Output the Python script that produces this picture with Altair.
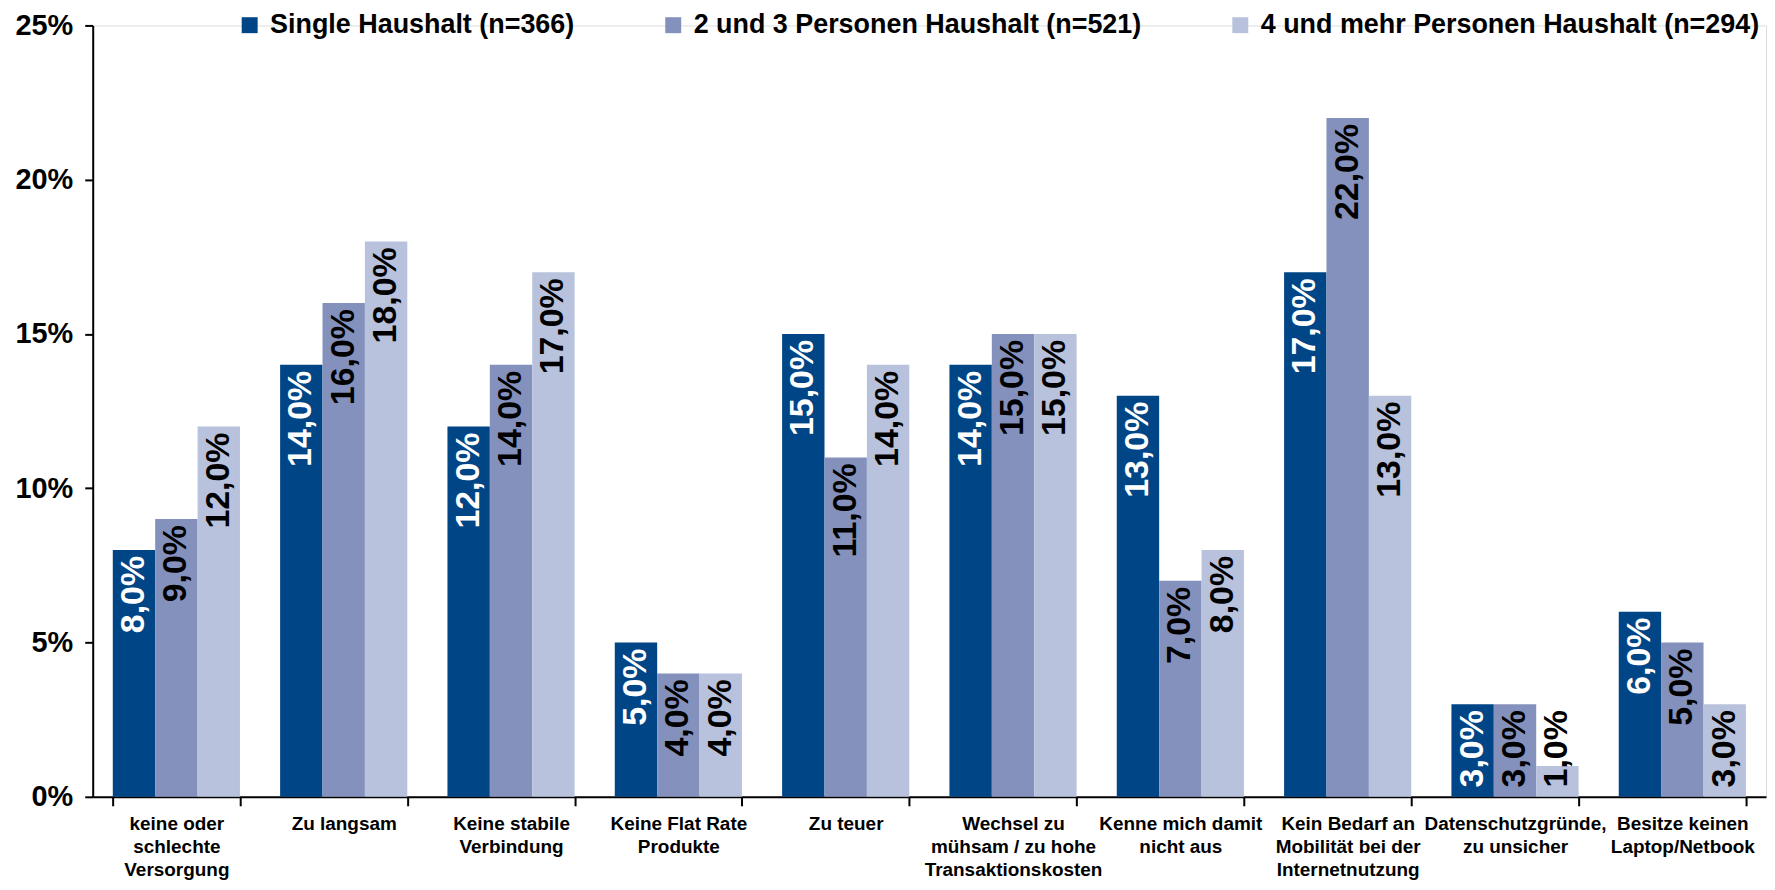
import altair as alt
import pandas as pd

categories = [
    "keine oder|schlechte|Versorgung",
    "Zu langsam",
    "Keine stabile|Verbindung",
    "Keine Flat Rate|Produkte",
    "Zu teuer",
    "Wechsel zu|mühsam / zu hohe|Transaktionskosten",
    "Kenne mich damit|nicht aus",
    "Kein Bedarf an|Mobilität bei der|Internetnutzung",
    "Datenschutzgründe,|zu unsicher",
    "Besitze keinen|Laptop/Netbook",
]
series = [
    "Single Haushalt (n=366)",
    "2 und 3 Personen Haushalt (n=521)",
    "4 und mehr Personen Haushalt (n=294)",
]
single_values = [8, 14, 12, 5, 15, 14, 13, 17, 3, 6]
mid_values = [9, 16, 14, 4, 11, 15, 7, 22, 3, 5]
large_values = [12, 18, 17, 4, 14, 15, 8, 13, 1, 3]
colors = ["#004586", "#8491bd", "#b8c2dc"]
y_ticks = [0, 5, 10, 15, 20, 25]

rows = []
for s, vals in zip(series, [single_values, mid_values, large_values]):
    for c, v in zip(categories, vals):
        rows.append({
            "category": c,
            "series": s,
            "value": v,
            "label": f"{v:.1f}".replace(".", ",") + "%",
        })
df = pd.DataFrame(rows)

FONT = "Liberation Sans"

x_enc = alt.X(
    "category:N",
    sort=categories,
    scale=alt.Scale(paddingInner=0.24, paddingOuter=0.12),
    axis=alt.Axis(
        title=None,
        labelAngle=0,
        labelExpr="isValid(datum.value) ? split(datum.value, '|') : ''",
        tickBand="extent",
        labelFontSize=19,
        labelFontWeight="bold",
        labelFont=FONT,
        labelColor="black",
        labelLineHeight=23,
        labelPadding=9,
        labelOverlap=False,
        labelLimit=0,
        labelBaseline="top",
        tickSize=9,
        tickWidth=2,
        tickColor="black",
        domainColor="black",
        domainWidth=2,
    ),
)
xoff_enc = alt.XOffset("series:N", sort=series, scale=alt.Scale(domain=series, paddingInner=0, paddingOuter=0))

bars = alt.Chart(df).mark_bar().encode(
    x=x_enc,
    xOffset=xoff_enc,
    y=alt.Y(
        "value:Q",
        scale=alt.Scale(domain=[0, 25], nice=False),
        axis=alt.Axis(
            title=None,
            values=y_ticks,
            labelExpr="datum.value + '%'",
            labelFontSize=29,
            labelFontWeight="bold",
            labelFont=FONT,
            labelColor="black",
            labelPadding=12,
            tickSize=8,
            tickWidth=2,
            tickColor="black",
            domainColor="black",
            domainWidth=2,
            grid=False,
        ),
    ),
    color=alt.Color(
        "series:N",
        sort=series,
        scale=alt.Scale(domain=series, range=colors),
        legend=alt.Legend(
            title=None,
            orient="none",
            legendX=144,
            legendY=-14,
            direction="horizontal",
            symbolType="square",
            symbolSize=256,
            symbolStrokeWidth=0,
            symbolOpacity=1,
            labelFontSize=27,
            labelFontWeight="bold",
            labelFont=FONT,
            labelColor="black",
            labelOffset=7,
            labelLimit=0,
            columnPadding=85,
            padding=0,
        ),
    ),
)

texts = alt.Chart(df).transform_calculate(
    label_y="max(datum.value, 3)"
).mark_text(
    angle=270,
    align="right",
    baseline="middle",
    dx=-6,
    fontSize=34,
    fontWeight="bold",
    font=FONT,
).encode(
    x=alt.X("category:N", sort=categories),
    xOffset=alt.XOffset("series:N", sort=series),
    y=alt.Y("label_y:Q"),
    text="label:N",
    color=alt.condition(
        "datum.series == 'Single Haushalt (n=366)'",
        alt.value("white"),
        alt.value("black"),
    ),
)

chart = alt.layer(bars, texts).properties(
    width=1679,
    height=774,
    autosize=alt.AutoSizeParams(type="none"),
    padding={"left": 85, "top": 16, "right": 1, "bottom": 84},
).configure_view(stroke=None).configure(font=FONT)

chart.save("out.html", embed_options={"renderer": "svg", "actions": False})
